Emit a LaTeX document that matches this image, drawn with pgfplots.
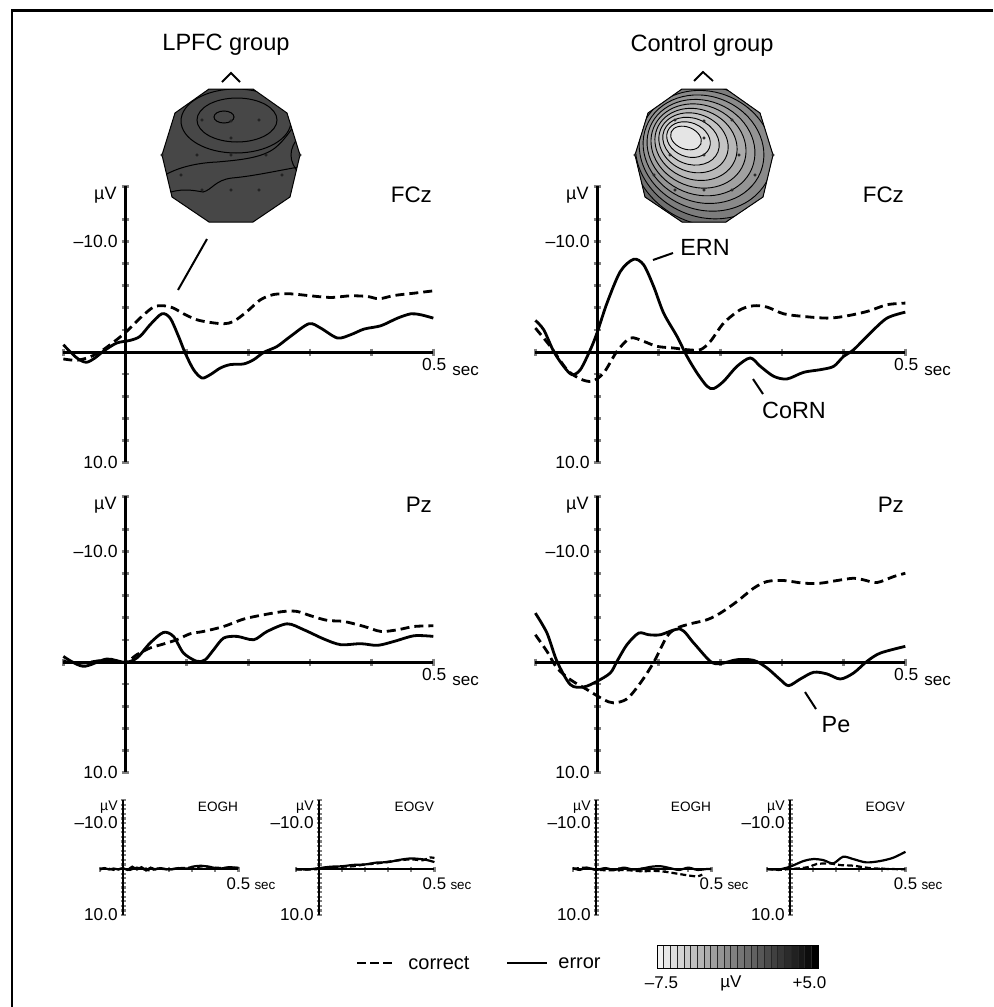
\documentclass[border=0pt]{standalone}
\usepackage{fontspec}
\setmainfont{Liberation Sans}
\usepackage{pgfplots}
\pgfplotsset{compat=1.18}
\pgfplotsset{
 erpbase/.style={scale only axis, axis lines=middle, axis line style={-}, y dir=reverse,
   xmin=-0.1,xmax=0.5,ymin=-15,ymax=10, xtick={-0.1,0,0.1,0.2,0.3,0.4,0.5},
   ytick={-15,-12,-10,-8,-6,-4,-2,0,2,4,6,8,10}, xticklabels={}, yticklabels={},
   tick align=center, clip=false, anchor=origin},
 erp/.style={erpbase, width=185pt, height=138pt, axis line style={line width=1.5pt},
   major tick length=3.5pt, tick style={line width=1.4pt}},
 eog/.style={erpbase, width=69.25pt, height=57.5pt, axis line style={line width=1.2pt},
   ytick={-15,-14,...,10},
   major tick length=2.5pt, tick style={line width=1.1pt}},
 err/.style={line width=1.4pt, smooth, no marks, black},
 cor/.style={line width=1.4pt, smooth, no marks, black, dash pattern=on 4.5pt off 2.5pt},
 errs/.style={line width=1.1pt, smooth, no marks, black},
 cors/.style={line width=1.1pt, smooth, no marks, black, dash pattern=on 3pt off 1.5pt},
}
\newcommand{\fs}[1]{\fontsize{#1}{#1}\selectfont}
\newcommand{\biglabels}[1]{%
  \node[anchor=east,inner sep=0pt,xshift=-4pt,font=\fs{9}] at (axis cs:0,-14.2) {µV};
  \node[anchor=east,inner sep=0pt,xshift=-3.5pt,font=\fs{8.8}] at (axis cs:0,-10) {–10.0};
  \node[anchor=east,inner sep=0pt,xshift=-3.5pt,font=\fs{8.8}] at (axis cs:0,10) {10.0};
  \node[anchor=base,inner sep=0pt,xshift=0.45pt,yshift=-9.35pt,font=\fs{8.7}] at (axis cs:0.5,0) {0.5};
  \node[anchor=base west,inner sep=0pt,xshift=9.35pt,yshift=-11.5pt,font=\fs{8.5}] at (axis cs:0.5,0) {sec};
  \node[anchor=east,inner sep=0pt,xshift=-0.5pt,font=\fs{11.2}] at (axis cs:0.5,-14.2) {#1};
}
\newcommand{\eoglabels}[1]{%
  \node[anchor=east,inner sep=0pt,xshift=-2.5pt,font=\fs{7}] at (axis cs:0,-13.5) {µV};
  \node[anchor=east,inner sep=0pt,xshift=-2.5pt,font=\fs{8.6}] at (axis cs:0,-10) {–10.0};
  \node[anchor=east,inner sep=0pt,xshift=-2.5pt,font=\fs{8.6}] at (axis cs:0,10) {10.0};
  \node[anchor=base,inner sep=0pt,yshift=-10pt,font=\fs{8.4}] at (axis cs:0.5,0) {0.5};
  \node[anchor=base west,inner sep=0pt,xshift=7.85pt,yshift=-10pt,font=\fs{6.7}] at (axis cs:0.5,0) {sec};
  \node[anchor=east,inner sep=0pt,font=\fs{6.8}] at (axis cs:0.5,-13.5) {#1};
}
\begin{document}
\begin{tikzpicture}
\useasboundingbox (0,0) rectangle (496.5pt,-503.5pt);

% ---------------- Left FCz
\begin{axis}[erp, at={(62.5pt,-176pt)}]
\addplot[cor] coordinates {(-0.100,0.63)(-0.0786,0.75)(-0.0569,0.45)(-0.0352,-0.21)(-0.0136,-1.11)(0.0027,-1.87)(0.0244,-3.07)(0.0461,-4.07)(0.0624,-4.19)(0.0786,-3.98)(0.0949,-3.46)(0.1166,-2.92)(0.1383,-2.68)(0.1600,-2.56)(0.1762,-2.77)(0.1979,-3.67)(0.2196,-4.73)(0.2413,-5.21)(0.2684,-5.27)(0.3010,-5.09)(0.3335,-4.94)(0.3661,-5.09)(0.3932,-5.03)(0.4121,-4.82)(0.4366,-5.12)(0.4691,-5.33)(0.5000,-5.54)};
\addplot[err] coordinates {(-0.100,-0.66)(-0.0895,-0.06)(-0.0759,0.63)(-0.0624,0.93)(-0.0488,0.54)(-0.0352,-0.06)(-0.0136,-0.81)(0.0081,-1.05)(0.0244,-1.42)(0.0407,-2.47)(0.0597,-3.46)(0.0732,-3.07)(0.0868,-1.42)(0.0976,0.09)(0.1112,1.60)(0.1247,2.35)(0.1383,2.05)(0.1546,1.45)(0.1708,1.14)(0.1925,1.08)(0.2088,0.69)(0.2251,0.03)(0.2467,-0.51)(0.2684,-1.42)(0.2983,-2.56)(0.3172,-2.17)(0.3444,-1.27)(0.3661,-1.57)(0.3878,-2.08)(0.4149,-2.38)(0.4420,-3.07)(0.4637,-3.46)(0.4799,-3.37)(0.5000,-3.07)};
\biglabels{FCz}
\end{axis}

% ---------------- Right FCz
\begin{axis}[erp, at={(298.5pt,-176pt)}]
\addplot[cor] coordinates {(-0.100,-2.17)(-0.0757,-0.51)(-0.0486,1.60)(-0.0270,2.44)(-0.0081,2.65)(0.0108,1.90)(0.0324,-0.06)(0.0541,-1.27)(0.0757,-0.96)(0.0973,-0.51)(0.1243,-0.36)(0.1459,-0.21)(0.1676,-0.21)(0.1838,-0.96)(0.2054,-2.62)(0.2324,-3.83)(0.2541,-4.19)(0.2757,-4.07)(0.3027,-3.46)(0.3351,-3.22)(0.3730,-3.07)(0.4000,-3.22)(0.4378,-3.67)(0.4703,-4.28)(0.5000,-4.43)};
\addplot[err] coordinates {(-0.100,-2.86)(-0.0865,-2.02)(-0.0703,-0.06)(-0.0541,1.30)(-0.0405,2.05)(-0.0270,1.60)(-0.0108,-0.21)(0.0000,-1.72)(0.0162,-4.43)(0.0378,-7.29)(0.0595,-8.40)(0.0757,-7.89)(0.0919,-5.93)(0.1081,-3.52)(0.1297,-1.42)(0.1459,0.39)(0.1622,1.90)(0.1784,3.10)(0.1892,3.31)(0.2054,2.65)(0.2270,1.30)(0.2486,0.54)(0.2649,1.30)(0.2865,2.20)(0.3081,2.44)(0.3351,1.84)(0.3622,1.60)(0.3838,1.30)(0.4000,0.39)(0.4162,-0.21)(0.4432,-1.72)(0.4703,-3.07)(0.5000,-3.61)};
\biglabels{FCz}
\end{axis}

% ---------------- Left Pz
\begin{axis}[erp, at={(62.5pt,-331pt)}]
\addplot[cor] coordinates {(-0.100,-0.06)(-0.0678,0.09)(-0.0352,-0.15)(0.0000,0.03)(0.0190,-0.66)(0.0407,-1.27)(0.0624,-1.63)(0.0841,-2.02)(0.1057,-2.56)(0.1274,-2.77)(0.1600,-3.22)(0.1925,-3.89)(0.2251,-4.28)(0.2576,-4.58)(0.2793,-4.58)(0.3010,-4.19)(0.3281,-3.77)(0.3552,-3.67)(0.3878,-3.22)(0.4149,-2.77)(0.4420,-2.92)(0.4691,-3.22)(0.5000,-3.28)};
\addplot[err] coordinates {(-0.100,-0.51)(-0.0678,0.39)(-0.0298,-0.27)(0.0000,0.03)(0.0190,-0.36)(0.0407,-1.72)(0.0624,-2.68)(0.0786,-2.32)(0.0949,-0.81)(0.1166,-0.06)(0.1302,-0.21)(0.1437,-1.11)(0.1600,-2.17)(0.1817,-2.32)(0.2088,-2.02)(0.2305,-2.77)(0.2630,-3.46)(0.2901,-2.92)(0.3227,-2.08)(0.3498,-1.57)(0.3823,-1.66)(0.4095,-1.51)(0.4366,-1.87)(0.4691,-2.38)(0.5000,-2.32)};
\biglabels{Pz}
\end{axis}

% ---------------- Right Pz
\begin{axis}[erp, at={(298.5pt,-331pt)}]
\addplot[cor] coordinates {(-0.100,-2.47)(-0.0811,-0.96)(-0.0649,0.54)(-0.0432,1.60)(-0.0162,2.50)(0.0108,3.40)(0.0270,3.70)(0.0486,3.34)(0.0703,1.90)(0.0919,0.03)(0.1135,-2.32)(0.1297,-3.07)(0.1514,-3.46)(0.1784,-3.83)(0.2000,-4.43)(0.2270,-5.48)(0.2541,-6.69)(0.2757,-7.29)(0.3027,-7.38)(0.3351,-7.14)(0.3622,-7.14)(0.3892,-7.38)(0.4162,-7.59)(0.4324,-7.44)(0.4541,-7.20)(0.4811,-7.74)(0.5000,-8.04)};
\addplot[err] coordinates {(-0.100,-4.43)(-0.0811,-2.62)(-0.0649,-0.06)(-0.0432,2.05)(-0.0216,2.26)(0.0000,1.75)(0.0216,0.99)(0.0324,-0.06)(0.0486,-1.57)(0.0676,-2.62)(0.0838,-2.47)(0.1027,-2.47)(0.1351,-2.98)(0.1568,-1.72)(0.1838,-0.06)(0.2000,0.15)(0.2270,-0.21)(0.2541,-0.15)(0.2757,0.54)(0.2973,1.60)(0.3108,2.14)(0.3297,1.54)(0.3514,0.93)(0.3730,1.08)(0.3946,1.54)(0.4162,0.99)(0.4378,-0.06)(0.4595,-0.81)(0.5000,-1.42)};
\biglabels{Pz}
\end{axis}

% ---------------- EOG plots
\begin{axis}[eog, at={(61.5pt,-434.5pt)}]
\addplot[cors] coordinates {(-0.1,0.1)(-0.07,-0.2)(-0.04,0.2)(0,-0.1)(0.03,0.2)(0.06,-0.3)(0.09,0.1)(0.12,0.3)(0.15,-0.1)(0.2,0.1)(0.25,-0.2)(0.3,-0.3)(0.35,-0.6)(0.4,-0.3)(0.45,-0.2)(0.5,-0.3)};
\addplot[errs] coordinates {(-0.1,0)(-0.08,-0.2)(-0.06,0.1)(-0.04,-0.1)(-0.02,0.1)(0,-0.2)(0.02,0.2)(0.04,-0.5)(0.06,0.1)(0.08,-0.4)(0.1,0.2)(0.12,-0.3)(0.14,0.1)(0.16,-0.2)(0.2,0.1)(0.24,-0.2)(0.28,-0.1)(0.3,-0.5)(0.34,-0.7)(0.38,-0.4)(0.42,-0.1)(0.46,-0.4)(0.5,-0.2)};
\eoglabels{EOGH}
\end{axis}
\begin{axis}[eog, at={(159.5pt,-434.5pt)}]
\addplot[cors] coordinates {(-0.1,0.1)(-0.05,0.1)(0,0)(0.05,-0.3)(0.1,-0.5)(0.15,-0.6)(0.2,-1.0)(0.25,-1.2)(0.3,-1.6)(0.35,-1.9)(0.4,-2.1)(0.45,-1.9)(0.48,-2.5)(0.5,-2.4)};
\addplot[errs] coordinates {(-0.1,0)(-0.05,0.1)(0,-0.2)(0.05,-0.5)(0.1,-0.6)(0.15,-0.9)(0.2,-1.0)(0.25,-1.4)(0.3,-1.5)(0.35,-2.0)(0.4,-2.3)(0.45,-2.1)(0.48,-1.8)(0.5,-1.5)};
\eoglabels{EOGV}
\end{axis}
\begin{axis}[eog, at={(298pt,-434.5pt)}]
\addplot[cors] coordinates {(-0.1,0)(-0.05,-0.3)(0,0.1)(0.05,0.3)(0.1,0.2)(0.15,0.3)(0.2,0.5)(0.25,0.4)(0.3,0.6)(0.35,1.0)(0.4,1.4)(0.44,1.6)(0.46,1.2)};
\addplot[errs] coordinates {(-0.1,-0.2)(-0.07,0.2)(-0.04,-0.3)(0,0.2)(0.04,-0.2)(0.08,0.2)(0.12,-0.3)(0.16,0.1)(0.2,-0.1)(0.24,-0.5)(0.28,-0.6)(0.32,-0.2)(0.36,0.2)(0.4,-0.3)(0.44,0.2)(0.48,0)(0.5,0)};
\eoglabels{EOGH}
\end{axis}
\begin{axis}[eog, at={(395pt,-434.5pt)}]
\addplot[cors] coordinates {(-0.1,0)(-0.05,0.2)(0,0)(0.05,-0.2)(0.086,-0.5)(0.115,-1.08)(0.173,-1.22)(0.216,-0.86)(0.274,-0.72)(0.36,-0.14)(0.5,0.07)};
\addplot[errs] coordinates {(-0.1,0)(-0.05,0.1)(0,-0.5)(0.058,-1.73)(0.10,-2.16)(0.144,-1.94)(0.187,-1.22)(0.23,-2.66)(0.274,-2.16)(0.33,-1.44)(0.39,-1.73)(0.447,-2.45)(0.5,-3.74)};
\eoglabels{EOGV}
\end{axis}

% ---------------- decorations in pixel coordinates
\begin{scope}[x=0.5pt,y=-0.5pt]
\draw[line width=1.35pt] (12,1007) -- (12,10.7) -- (993,10.7);

\node[font=\fs{11.8}] at (226,45) {LPFC group};
\node[font=\fs{11.8}] at (702,45) {Control group};

% carets
\draw[line width=0.9pt] (222,82) -- (231,73) -- (240,82);
\draw[line width=0.9pt] (694,81) -- (703,72) -- (713,81);

% LPFC map
\def\headL{(162,155)--(175,113)--(209,89)--(253,89)--(287,113)--(300,155)--(290,197)--(253,222)--(209,222)--(172,197)--cycle}
\begin{scope}
\clip \headL;
\fill[black!72] (150,80) rectangle (310,230);
\draw[line width=0.5pt] (224,117) ellipse [x radius=10, y radius=6];
\draw[line width=0.5pt] (237,120) ellipse [x radius=40, y radius=22];
\draw[line width=0.5pt] (236,121) ellipse [x radius=55, y radius=32];
\draw[line width=0.5pt] (160,178) .. controls (175,168) and (195,163) .. (217,162) .. controls (240,160) and (262,158) .. (275,148) .. controls (285,140) and (292,128) .. (300,118);
\draw[line width=0.5pt] (165,194) .. controls (180,188) and (192,190) .. (203,192) .. controls (212,190) and (215,180) .. (232,178) .. controls (255,176) and (280,170) .. (305,166);
\draw[line width=0.5pt] (300,136) .. controls (288,148) and (288,162) .. (300,174);
\end{scope}
\draw[line width=0.5pt] \headL;
\foreach \p in {(202,120),(231,121),(259,120),(231,138),(197,155),(231,155),(266,155),(181,175),(282,175),(202,190),(231,190),(259,190),(162,155),(300,155)}
  \draw[line width=0.3pt, fill=black!45] \p circle [radius=1.3];

% Control map
\def\headR{(635,155)--(648,113)--(682,89)--(726,89)--(760,113)--(773,155)--(763,197)--(726,222)--(682,222)--(645,197)--cycle}
\begin{scope}
\clip \headR;
\fill[black!76] (620,80) rectangle (790,230);
\foreach \k in {13,12,...,0} {
  \pgfmathsetmacro\cx{686+2.5*\k}
  \pgfmathsetmacro\cy{138+1.6*\k}
  \pgfmathsetmacro\rx{16+6.5*\k}
  \pgfmathsetmacro\ry{11+6*\k}
  \pgfmathtruncatemacro\pc{10+60*\k/13}
  \filldraw[fill=black!\pc, draw=black, line width=0.45pt, rotate around={-22:(\cx,\cy)}] (\cx,\cy) ellipse [x radius=\rx, y radius=\ry];
}
\end{scope}
\draw[line width=0.5pt] \headR;
\foreach \p in {(675,120),(704,121),(732,120),(704,138),(670,155),(704,155),(739,155),(654,175),(755,175),(675,190),(704,190),(732,190),(635,155),(773,155)}
  \draw[line width=0.3pt, fill=black!35] \p circle [radius=1.3];

% annotation lines and labels
\draw[line width=1pt] (207,239) -- (178,290);
\draw[line width=1pt] (653,260) -- (673,253);
\node[font=\fs{11.7}] at (705,247) {ERN};
\draw[line width=1pt] (753,379) -- (763,394);
\node[font=\fs{11.7}] at (794,410) {CoRN};
\draw[line width=1pt] (805,692) -- (816,709);
\node[font=\fs{11.7}] at (836,725) {Pe};

% legend
\draw[line width=1.4pt, dash pattern=on 4.5pt off 2pt] (357,963) -- (392,963);
\node[anchor=west, inner sep=0pt, font=\fs{10}] at (408,963) {correct};
\draw[line width=1.4pt] (507,963) -- (547,963);
\node[anchor=west, inner sep=0pt, font=\fs{10}] at (558,963) {error};

% colour scale
\foreach \i in {0,...,23} {
  \pgfmathsetmacro\xa{657+\i*6.708}
  \pgfmathsetmacro\xb{657+(\i+1)*6.708}
  \pgfmathtruncatemacro\pc{5+95*\i/23}
  \filldraw[fill=black!\pc, draw=black!85, line width=0.3pt] (\xa,945) rectangle (\xb,968);
}
\draw[line width=0.4pt] (657,945) rectangle (818,968);
\node[font=\fs{8.5}] at (661.5,983) {–7.5};
\node[font=\fs{8.5}] at (731,983) {µV};
\node[font=\fs{8.5}] at (809.5,983) {+5.0};
\end{scope}
\end{tikzpicture}
\end{document}
